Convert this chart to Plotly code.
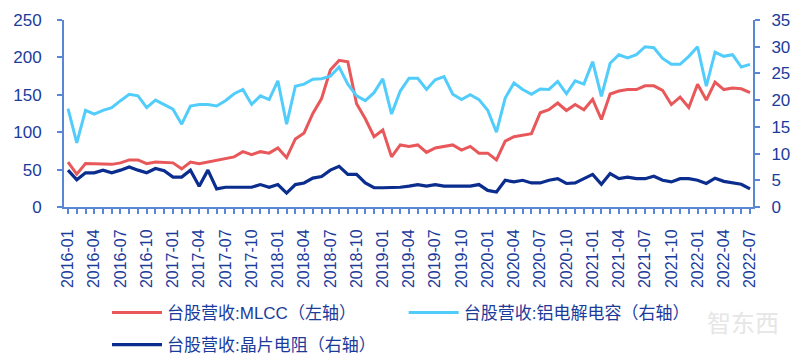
import pandas as pd
import plotly.graph_objects as go

months = [p.strftime("%Y-%m") for p in pd.period_range("2016-01", "2022-07", freq="M")]

mlcc = [60, 44, 58, 58, 58, 57, 59, 63, 63, 58, 60, 59, 59, 51, 60, 58, 60, 63, 65, 67,
        74, 70, 74, 72, 79, 66, 91, 99, 125, 145, 183, 196, 194, 138, 118, 94, 103, 67, 83, 81,
        83, 73, 79, 81, 83, 76, 81, 72, 72, 63, 88, 94, 96, 98, 126, 130, 139, 129, 137, 130,
        144, 117, 151, 155, 157, 157, 162, 162, 156, 137, 147, 133, 164, 143, 167, 157, 159, 158, 153]

alu_cap = [18.4, 12.0, 18.1, 17.4, 18.1, 18.6, 19.9, 21.1, 20.8, 18.6, 20.0, 19.2, 18.3, 15.5, 18.9, 19.2, 19.2, 18.9, 19.9, 21.2,
           22.0, 19.2, 20.8, 20.1, 23.6, 15.5, 22.6, 23.0, 23.9, 24.0, 24.5, 26.2, 23.0, 20.8, 19.9, 21.4, 24.0, 17.4, 21.7, 24.1,
           24.1, 22.0, 23.8, 24.4, 21.1, 20.1, 21.0, 20.1, 18.1, 14.0, 20.4, 23.2, 22.0, 21.1, 22.1, 22.0, 23.5, 21.2, 23.6, 23.0,
           27.2, 20.7, 26.9, 28.5, 27.9, 28.5, 30.0, 29.8, 27.8, 26.7, 26.7, 28.2, 30.0, 22.6, 29.0, 28.2, 28.5, 26.2, 26.7]

chip_res = [6.9, 5.1, 6.4, 6.4, 6.9, 6.4, 6.9, 7.5, 6.9, 6.4, 7.2, 6.8, 5.6, 5.6, 6.9, 3.9, 6.9, 3.4, 3.7, 3.7,
            3.7, 3.7, 4.2, 3.7, 4.2, 2.6, 4.2, 4.5, 5.4, 5.7, 6.9, 7.6, 6.1, 6.1, 4.5, 3.6, 3.6, 3.6, 3.7, 3.9,
            4.2, 3.9, 4.2, 3.9, 3.9, 3.9, 3.9, 4.2, 3.1, 2.8, 5.0, 4.7, 5.0, 4.5, 4.5, 5.0, 5.3, 4.4, 4.5, 5.3,
            6.1, 4.25, 6.25, 5.3, 5.6, 5.3, 5.3, 5.75, 5.0, 4.7, 5.3, 5.3, 5.0, 4.4, 5.4, 4.8, 4.5, 4.25, 3.4]

names = ["台股营收:MLCC（左轴）", "台股营收:铝电解电容（右轴）", "台股营收:晶片电阻（右轴）"]
colors = ["#E8585A", "#52CDFB", "#0A2D8E"]

FONT = "Liberation Sans, Arial, Noto Sans CJK SC, sans-serif"
TEXT_COLOR = "#1B3B9B"
AXIS_COLOR = "#5A86D6"

fig = go.Figure()
fig.add_trace(go.Scatter(x=months, y=mlcc, name=names[0], mode="lines",
                         line=dict(color=colors[0], width=3), yaxis="y", legend="legend"))
fig.add_trace(go.Scatter(x=months, y=alu_cap, name=names[1], mode="lines",
                         line=dict(color=colors[1], width=3), yaxis="y2", legend="legend3"))
fig.add_trace(go.Scatter(x=months, y=chip_res, name=names[2], mode="lines",
                         line=dict(color=colors[2], width=3.2), yaxis="y2", legend="legend2"))

label_ticks = [m if i % 3 == 0 else "" for i, m in enumerate(months)]

leg_common = dict(orientation="h", xanchor="left", yanchor="middle",
                  font=dict(size=17, color=TEXT_COLOR, family=FONT),
                  itemwidth=50, bgcolor="rgba(0,0,0,0)", borderwidth=0)

# page body has an 8px default margin, so the figure is offset by (8, 8) on screen
fig.update_layout(
    width=800, height=359,
    margin=dict(l=56, r=55, t=12, b=160, autoexpand=False),
    paper_bgcolor="white", plot_bgcolor="white",
    font=dict(family=FONT, size=16, color=TEXT_COLOR),
    xaxis=dict(type="category", range=[-0.46, len(months) - 0.66],
               tickmode="array", tickvals=months, ticktext=label_ticks,
               tickangle=-90, ticks="outside", ticklen=5, tickcolor=AXIS_COLOR, tickwidth=1.5,
               ticklabelstandoff=9, automargin=False,
               showline=True, linecolor=AXIS_COLOR, linewidth=2, showgrid=False, zeroline=False,
               tickfont=dict(size=16, color=TEXT_COLOR)),
    yaxis=dict(range=[0, 250], dtick=50, showgrid=False, zeroline=False,
               showline=True, linecolor=AXIS_COLOR, linewidth=2,
               ticks="outside", ticklen=5, tickcolor=AXIS_COLOR, tickwidth=1.5,
               ticklabelstandoff=12, automargin=False,
               tickfont=dict(size=17, color=TEXT_COLOR)),
    yaxis2=dict(range=[0, 35], dtick=5, overlaying="y", side="right", showgrid=False, zeroline=False,
                showline=True, linecolor=AXIS_COLOR, linewidth=2,
                ticks="outside", ticklen=5, tickcolor=AXIS_COLOR, tickwidth=1.5,
                ticklabelstandoff=8, automargin=False,
                tickfont=dict(size=17, color=TEXT_COLOR)),
    legend=dict(x=0.0624, y=-0.567, **leg_common),
    legend3=dict(x=0.493, y=-0.567, **leg_common),
    legend2=dict(x=0.0624, y=-0.738, **leg_common),
    showlegend=True,
)

fig.add_annotation(text="智东西", xref="paper", yref="paper", x=0.985, y=-0.61,
                   xanchor="center", yanchor="middle", showarrow=False,
                   font=dict(size=24, color="#E6E6E6", family="Noto Sans CJK SC"))

fig.write_html("out.html")
